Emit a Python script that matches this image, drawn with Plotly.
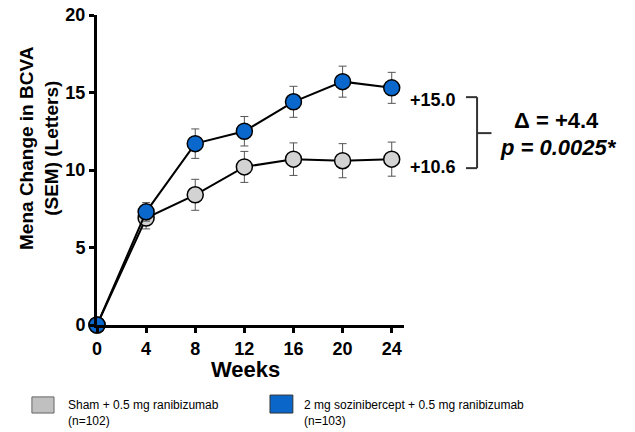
import plotly.graph_objects as go

weeks = [0, 4, 8, 12, 16, 20, 24]
sham_mean = [0, 6.9, 8.4, 10.2, 10.7, 10.6, 10.7]
sham_sem = [0, 0.7, 1.0, 1.0, 1.05, 1.1, 1.1]
sozi_mean = [0, 7.3, 11.7, 12.5, 14.4, 15.7, 15.3]
sozi_sem = [0, 0.6, 0.95, 0.95, 1.0, 1.0, 1.0]
x_ticks = [0, 4, 8, 12, 16, 20, 24]
y_ticks = [0, 5, 10, 15, 20]
legend_labels = ["Sham + 0.5 mg ranibizumab<br>(n=102)",
                 "2 mg sozinibercept + 0.5 mg ranibizumab<br>(n=103)"]
end_labels = ["+15.0", "+10.6"]

GRAY = "#d3d3d3"
BLUE = "#0a68cc"
FONT = "Liberation Sans, Arial, sans-serif"

fig = go.Figure()
for y, e, c in [(sham_mean, sham_sem, GRAY), (sozi_mean, sozi_sem, BLUE)]:
    fig.add_trace(go.Scatter(
        x=weeks, y=y, mode="lines+markers",
        line=dict(color="black", width=2),
        marker=dict(size=16, color=c, line=dict(color="black", width=1.5)),
        error_y=dict(type="data", array=e, color="#555555", thickness=1, width=4),
        cliponaxis=False, showlegend=False))

fig.update_layout(
    width=635, height=432,
    margin=dict(l=97, r=231, t=15, b=107, autoexpand=False),
    paper_bgcolor="white", plot_bgcolor="white",
    font=dict(family=FONT, color="black"),
    xaxis=dict(range=[0, 25], tickvals=x_ticks, showgrid=False, zeroline=False,
               showline=True, linecolor="black", linewidth=3, automargin=False,
               ticks="outside", ticklen=5, tickwidth=3, tickcolor="black",
               tickfont=dict(size=18, family=FONT, weight="bold")),
    yaxis=dict(range=[0, 20], tickvals=y_ticks, showgrid=False, zeroline=False,
               showline=True, linecolor="black", linewidth=3, automargin=False,
               ticks="outside", ticklen=5, tickwidth=3, tickcolor="black",
               tickfont=dict(size=18, family=FONT, weight="bold")),
)

ann = []
ann.append(dict(text="<b>Weeks</b>", x=0.485, y=-0.142, xref="paper", yref="paper",
                showarrow=False, font=dict(size=22), xanchor="center", yanchor="middle"))
ann.append(dict(text="<b>Mena Change in BCVA<br>(SEM) (Letters)</b>", x=-0.189, y=0.571,
                xref="paper", yref="paper", textangle=-90, showarrow=False,
                font=dict(size=19), xanchor="center", yanchor="middle"))
ann.append(dict(text="<b>%s</b>" % end_labels[0], x=1.094, y=0.726, xref="paper", yref="paper",
                showarrow=False, font=dict(size=18), xanchor="center", yanchor="middle"))
ann.append(dict(text="<b>%s</b>" % end_labels[1], x=1.094, y=0.51, xref="paper", yref="paper",
                showarrow=False, font=dict(size=18), xanchor="center", yanchor="middle"))
ann.append(dict(text="<b>Δ = +4.4</b>", x=1.498, y=0.661, xref="paper", yref="paper",
                showarrow=False, font=dict(size=22), xanchor="center", yanchor="middle"))
ann.append(dict(text="<b><i>p = 0.0025*</i></b>", x=1.502, y=0.574, xref="paper", yref="paper",
                showarrow=False, font=dict(size=22), xanchor="center", yanchor="middle"))
ann.append(dict(text=legend_labels[0], x=-0.101, y=-0.284, xref="paper", yref="paper",
                showarrow=False, font=dict(size=12), xanchor="left", yanchor="middle", align="left"))
ann.append(dict(text=legend_labels[1], x=0.668, y=-0.284, xref="paper", yref="paper",
                showarrow=False, font=dict(size=12), xanchor="left", yanchor="middle", align="left"))
fig.update_layout(annotations=ann)

br = dict(color="#333333", width=2)
shapes = [
    dict(type="line", xref="paper", yref="paper", x0=1.202, x1=1.238, y0=0.735, y1=0.735, line=br),
    dict(type="line", xref="paper", yref="paper", x0=1.238, x1=1.238, y0=0.735, y1=0.506, line=br),
    dict(type="line", xref="paper", yref="paper", x0=1.202, x1=1.238, y0=0.506, y1=0.506, line=br),
    dict(type="line", xref="paper", yref="paper", x0=1.238, x1=1.285, y0=0.619, y1=0.619, line=br),
    dict(type="rect", xref="paper", yref="paper", x0=-0.212, x1=-0.140, y0=-0.232, y1=-0.284,
         fillcolor="#c0c0c0", line=dict(color="#666666", width=1)),
    dict(type="rect", xref="paper", yref="paper", x0=0.5635, x1=0.638, y0=-0.226, y1=-0.284,
         fillcolor="#0a66c8", line=dict(color="#333333", width=1)),
]
fig.update_layout(shapes=shapes)

fig.write_html("out.html", config={"displayModeBar": False},
               post_script="document.body.style.margin='0px';")
